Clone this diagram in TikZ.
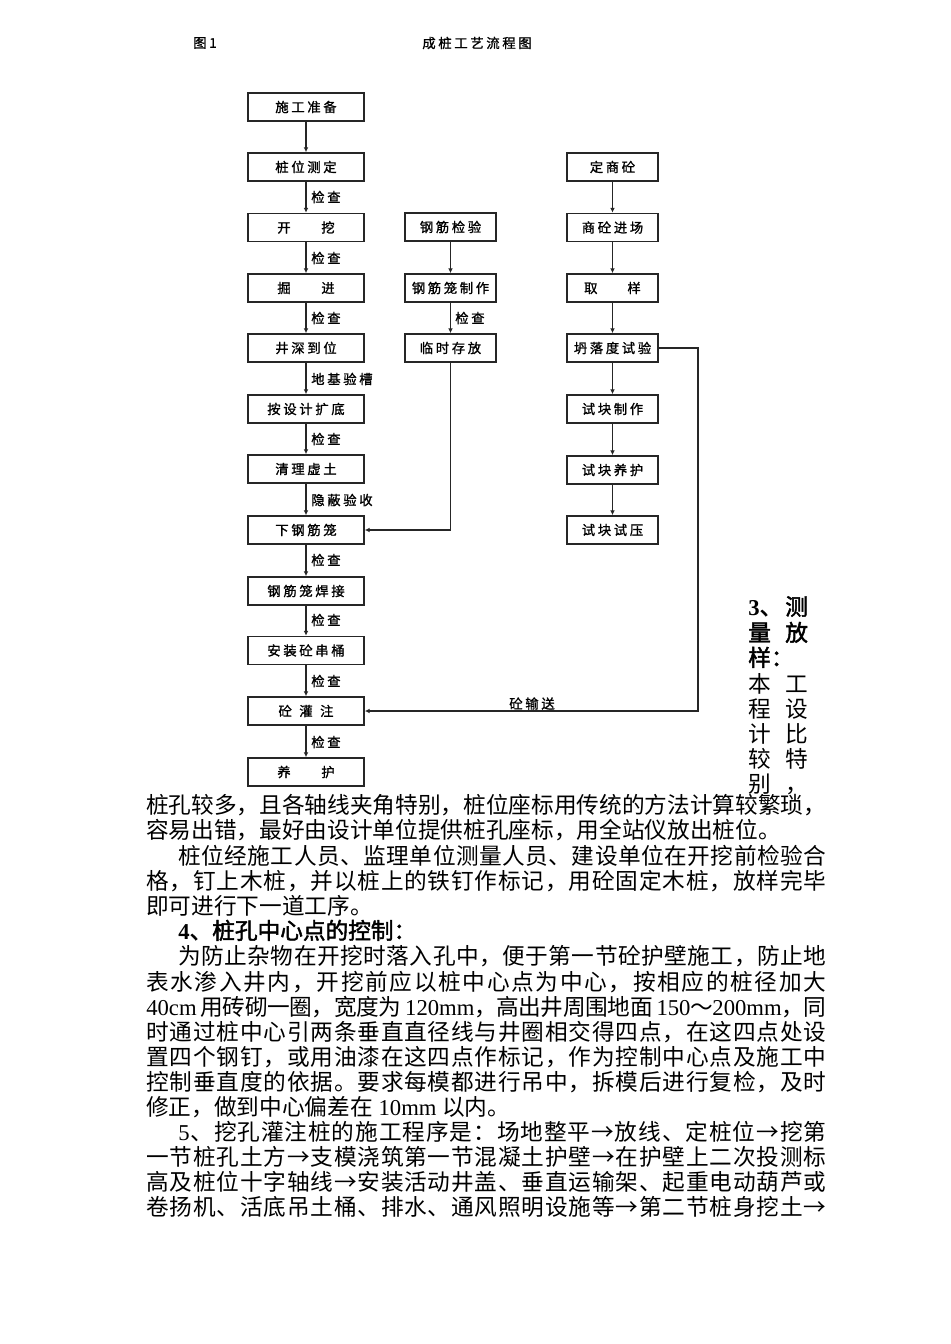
\documentclass[tikz,border=0pt]{standalone}
\usepackage{fontspec}
\setmainfont{Liberation Serif}
\newfontfamily\cjk{Noto Sans CJK SC}
\newfontfamily\cjkbf[FakeBold=2]{Noto Sans CJK SC}
\newfontfamily\boxcjk[LetterSpace=20,FakeBold=1.2]{Noto Sans CJK SC}
\usetikzlibrary{arrows.meta}
\newcommand\boxf{\fontsize{10pt}{12pt}\boxcjk}
\newcommand\bodyf{\fontsize{17pt}{20pt}\cjk}
\newcommand\bodybf{\fontsize{17pt}{20pt}\cjkbf}
\newcommand\lat[1]{{\rmfamily #1}}
\def\spendmark{\spend}
\def\sp#1{\def\sparg{#1}\ifx\sparg\spendmark\else#1\hskip0pt plus 1fil minus 0.4pt\relax\expandafter\sp\fi}
\newcommand\fullline[1]{\hbox to 510pt{\sp #1\spend\unskip}}
\newcommand\indline[1]{\hbox to 486pt{\sp #1\spend\unskip}}
\begin{document}
\begin{tikzpicture}[x=0.75pt,y=-0.75pt,
  lbox/.style={draw=black!85, line width=1.3pt, minimum width=87pt, minimum height=21pt, inner sep=0pt, font=\boxf},
  sbox/.style={lbox, minimum width=68.25pt},
  lab/.style={anchor=west, inner sep=0pt, font=\boxf},
  flow/.style={line width=1.1pt, draw=black!85, -{Latex[length=3.5pt,width=3.5pt]}},
  body/.style={anchor=west, inner sep=0pt, font=\bodyf, text height=13pt, text depth=4pt},
  bodyb/.style={body, font=\bodybf}]
\useasboundingbox (0,0) rectangle (950,1344);
% header
\node[lab] (h1) at (193,43) {图1};
\node[inner sep=0pt, font=\boxf] (h2) at (477,43) {成桩工艺流程图};
% left column
\node[lbox] (n1) at (306,107) {施工准备};
\node[lbox] (n2) at (306,167) {桩位测定};
\node[lbox] (n3) at (306,227.5) {开\hspace{23pt}挖};
\node[lbox] (n4) at (306,288) {掘\hspace{23pt}进};
\node[lbox] (n5) at (306,348) {井深到位};
\node[lbox] (n6) at (306,409) {按设计扩底};
\node[lbox] (n7) at (306,469) {清理虚土};
\node[lbox] (n8) at (306,530) {下钢筋笼};
\node[lbox] (n9) at (306,591) {钢筋笼焊接};
\node[lbox] (n10) at (306,650.5) {安装砼串桶};
\node[lbox] (n11) at (306,711) {砼\hspace{5.6pt}灌\hspace{5.6pt}注};
\node[lbox] (n12) at (306,772) {养\hspace{23pt}护};
\draw[flow] (n1) -- (n2);
\draw[flow] (n2) -- (n3);
\draw[flow] (n3) -- (n4);
\draw[flow] (n4) -- (n5);
\draw[flow] (n5) -- (n6);
\draw[flow] (n6) -- (n7);
\draw[flow] (n7) -- (n8);
\draw[flow] (n8) -- (n9);
\draw[flow] (n9) -- (n10);
\draw[flow] (n10) -- (n11);
\draw[flow] (n11) -- (n12);
\node[lab] (l2) at (311,197) {检查};
\node[lab] (l3) at (311,258) {检查};
\node[lab] (l4) at (311,318) {检查};
\node[lab] (l5) at (311,379) {地基验槽};
\node[lab] (l6) at (311,439) {检查};
\node[lab] (l7) at (311,500) {隐蔽验收};
\node[lab] (l8) at (311,560) {检查};
\node[lab] (l9) at (311,620) {检查};
\node[lab] (l10) at (311,681) {检查};
\node[lab] (l11) at (311,742) {检查};
% middle column
\node[sbox] (m1) at (450.5,227) {钢筋检验};
\node[sbox] (m2) at (450.5,288) {钢筋笼制作};
\node[sbox] (m3) at (450.5,348) {临时存放};
\draw[flow] (m1) -- (m2);
\draw[flow] (m2) -- (m3);
\node[lab] (ml) at (455,318) {检查};
\draw[flow] (m3.south) |- (n8.east);
% right column
\node[sbox] (r1) at (612.5,167) {定商砼};
\node[sbox] (r2) at (612.5,227.5) {商砼进场};
\node[sbox] (r3) at (612.5,288) {取\hspace{22.5pt}样};
\node[sbox] (r4) at (612.5,348) {坍落度试验};
\node[sbox] (r5) at (612.5,409) {试块制作};
\node[sbox] (r6) at (612.5,470) {试块养护};
\node[sbox] (r7) at (612.5,530) {试块试压};
\draw[flow] (r1) -- (r2);
\draw[flow] (r2) -- (r3);
\draw[flow] (r3) -- (r4);
\draw[flow] (r4) -- (r5);
\draw[flow] (r5) -- (r6);
\draw[flow] (r6) -- (r7);
\coordinate (c1) at (698,348);
\coordinate (c2) at (698,711);
\draw[flow] (r4.east) -- (c1) -- (c2) -- (n11.east);
\node[inner sep=0pt, font=\boxf, anchor=south] (cl) at (532,710) {砼输送};
% right narrow text
\node[bodyb] (s1a) at (748,609) {\lat{\bfseries 3}、};
\node[bodyb] (s1b) at (785,609) {测};
\node[bodyb] (s2a) at (748,635) {量};
\node[bodyb] (s2b) at (785,635) {放};
\node[bodyb] (s3a) at (748,660) {样：};
\node[body] (s4a) at (748,686) {本};
\node[body] (s4b) at (785,686) {工};
\node[body] (s5a) at (748,711) {程};
\node[body] (s5b) at (785,711) {设};
\node[body] (s6a) at (748,736) {计};
\node[body] (s6b) at (785,736) {比};
\node[body] (s7a) at (748,761) {较};
\node[body] (s7b) at (785,761) {特};
\node[body] (s8a) at (748,786) {别};
\node[body] (s8b) at (785,786) {，};
% paragraphs
\node[body] (p1) at (146,807) {\fullline{桩孔较多，且各轴线夹角特别，桩位座标用传统的方法计算较繁琐，}};
\node[body] (p2) at (146,832) {容易出错，最好由设计单位提供桩孔座标，用全站仪放出桩位。};
\node[body] (p3) at (178,858) {\indline{桩位经施工人员、监理单位测量人员、建设单位在开挖前检验合}};
\node[body] (p4) at (146,883) {\fullline{格，钉上木桩，并以桩上的铁钉作标记，用砼固定木桩，放样完毕}};
\node[body] (p5) at (146,908) {即可进行下一道工序。};
\node[bodyb] (p6) at (178,933) {\lat{\bfseries 4}、桩孔中心点的控制：};
\node[body] (p7) at (178,958) {\indline{为防止杂物在开挖时落入孔中，便于第一节砼护壁施工，防止地}};
\node[body] (p8) at (146,984) {\fullline{表水渗入井内，开挖前应以桩中心点为中心，按相应的桩径加大}};
\node[body] (p9) at (146,1009) {\fullline{{\lat{40cm }}用砖砌一圈，宽度为{\lat{ 120mm}}，高出井周围地面{\lat{ 150}}～{\lat{200mm}}，同}};
\node[body] (p10) at (146,1034) {\fullline{时通过桩中心引两条垂直直径线与井圈相交得四点，在这四点处设}};
\node[body] (p11) at (146,1059) {\fullline{置四个钢钉，或用油漆在这四点作标记，作为控制中心点及施工中}};
\node[body] (p12) at (146,1084) {\fullline{控制垂直度的依据。要求每模都进行吊中，拆模后进行复检，及时}};
\node[body] (p13) at (146,1109) {修正，做到中心偏差在\lat{ 10mm }以内。};
\node[body] (p14) at (178,1134) {\indline{{\lat{5}}、挖孔灌注桩的施工程序是：场地整平→放线、定桩位→挖第}};
\node[body] (p15) at (146,1159) {\fullline{一节桩孔土方→支模浇筑第一节混凝土护壁→在护壁上二次投测标}};
\node[body] (p16) at (146,1184) {\fullline{高及桩位十字轴线→安装活动井盖、垂直运输架、起重电动葫芦或}};
\node[body] (p17) at (146,1209) {\fullline{卷扬机、活底吊土桶、排水、通风照明设施等→第二节桩身挖土→}};
\end{tikzpicture}
\end{document}
